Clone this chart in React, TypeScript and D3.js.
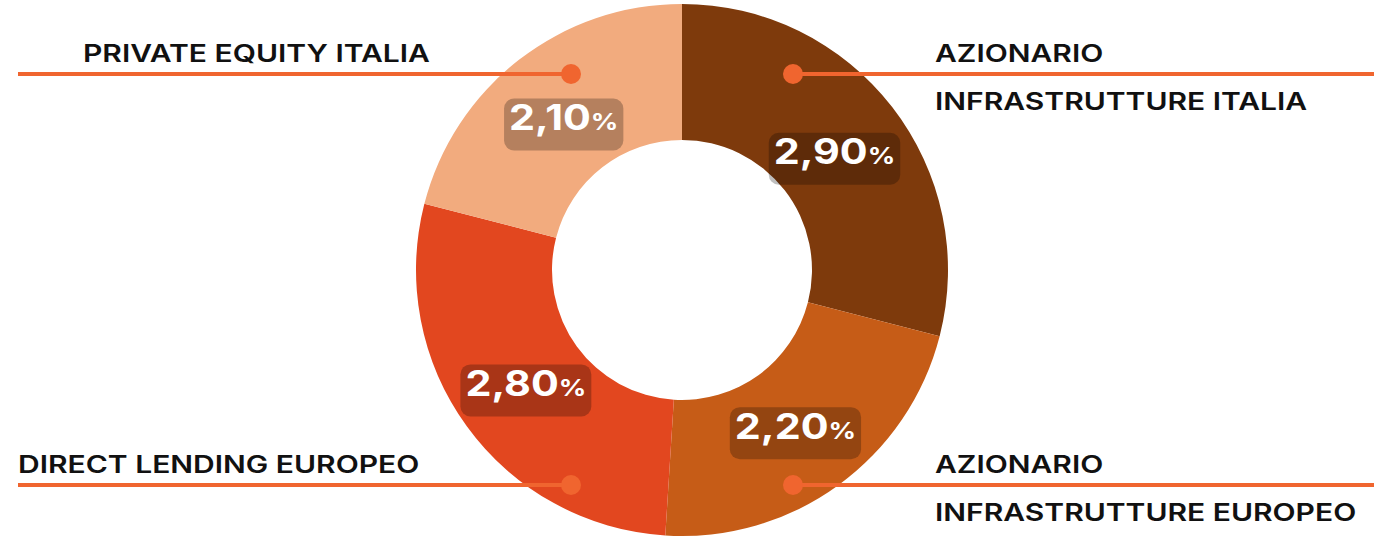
import React, { useEffect, useRef } from 'react';
import * as d3 from 'd3';

// Slices in clockwise order from 12 o'clock
const values = [2.9, 2.2, 2.8, 2.1];
const valueLabels = ['2,90', '2,20', '2,80', '2,10'];
const sliceColors = ['#7e3a0c', '#c65c17', '#e2471f', '#f2ab7e'];

// Category labels (lines of text) and which corner they sit in
const categoryLines = [
  ['AZIONARIO', 'INFRASTRUTTURE ITALIA'],
  ['AZIONARIO', 'INFRASTRUTTURE EUROPEO'],
  ['DIRECT LENDING EUROPEO'],
  ['PRIVATE EQUITY ITALIA'],
];
const categorySide = ['right', 'right', 'left', 'left'];
const categoryRow = ['top', 'bottom', 'bottom', 'top'];

const W = 1374;
const H = 539;

// stretch text horizontally to mimic the wide geometric face of the original
const widen = (sel: d3.Selection<SVGTextElement, unknown, null, undefined>, k: number) => {
  const w = (sel.node() as SVGTextElement).getComputedTextLength();
  sel.attr('textLength', w * k).attr('lengthAdjust', 'spacingAndGlyphs');
};

const App: React.FC = () => {
  const svgRef = useRef<SVGSVGElement>(null);

  useEffect(() => {
    if (!svgRef.current) return;
    const svg = d3.select(svgRef.current);
    svg.selectAll('*').remove();

    const cx = 682;
    const cy = 270;
    const outerR = 266;
    const innerR = 130;
    const lineColor = '#f0652f';
    const font = 'Inter, "Open Sans", sans-serif';

    const pie = d3.pie<number>().sort(null).value(d => d);
    const arcs = pie(values);
    const arc = d3.arc<d3.PieArcDatum<number>>().innerRadius(innerR).outerRadius(outerR);
    const labelArc = d3.arc<d3.PieArcDatum<number>>().innerRadius(193).outerRadius(193);

    const g = svg.append('g').attr('transform', `translate(${cx},${cy})`);

    g.selectAll('path.slice')
      .data(arcs)
      .join('path')
      .attr('class', 'slice')
      .attr('d', arc)
      .attr('fill', (_, i) => sliceColors[i]);

    // Leader lines + category labels
    const lineY = { top: 74, bottom: 485 };
    const dotDx = 111;
    arcs.forEach((_, i) => {
      const side = categorySide[i];
      const row = categoryRow[i] as 'top' | 'bottom';
      const y = lineY[row];
      const dotX = side === 'right' ? cx + dotDx : cx - dotDx;
      const endX = side === 'right' ? W : 18;

      svg.append('line')
        .attr('x1', dotX).attr('x2', endX)
        .attr('y1', y).attr('y2', y)
        .attr('stroke', lineColor)
        .attr('stroke-width', 4);
      svg.append('circle')
        .attr('cx', dotX).attr('cy', y)
        .attr('r', 10)
        .attr('fill', lineColor);

      const lines = categoryLines[i];
      lines.forEach((t, k) => {
        const x = side === 'right' ? 935 : (row === 'top' ? 83 : 18);
        const txt = svg.append('text')
          .attr('x', x)
          .attr('y', y - 12 + k * 48)
          .attr('font-family', font)
          .attr('font-weight', 600)
          .attr('font-size', 24)
          .attr('fill', '#111')
          .text(t);
        widen(txt, 1.25);
      });
    });

    // Value badges
    arcs.forEach((a, i) => {
      const [lx, ly] = labelArc.centroid(a);
      const lg = g.append('g').attr('transform', `translate(${lx},${ly + 7})`);
      const t = lg.append('text')
        .attr('text-anchor', 'middle')
        .attr('dy', '0.35em')
        .attr('font-family', font)
        .attr('font-weight', 700)
        .attr('fill', '#fff');
      t.append('tspan').attr('font-size', 35).text(valueLabels[i]);
      t.append('tspan').attr('font-size', 23).text('%');
      widen(t, 1.18);
      const bb = (t.node() as SVGTextElement).getBBox();
      lg.insert('rect', 'text')
        .attr('x', bb.x - 5)
        .attr('y', -26)
        .attr('width', bb.width + 10)
        .attr('height', 52)
        .attr('rx', 10)
        .attr('fill', '#000')
        .attr('fill-opacity', 0.25);
    });
  }, []);

  return (
    <div style={{ position: 'absolute', left: 0, top: 0, background: '#fff' }}>
      <svg ref={svgRef} width={W} height={H} style={{ display: 'block' }} />
    </div>
  );
};

export default App;
